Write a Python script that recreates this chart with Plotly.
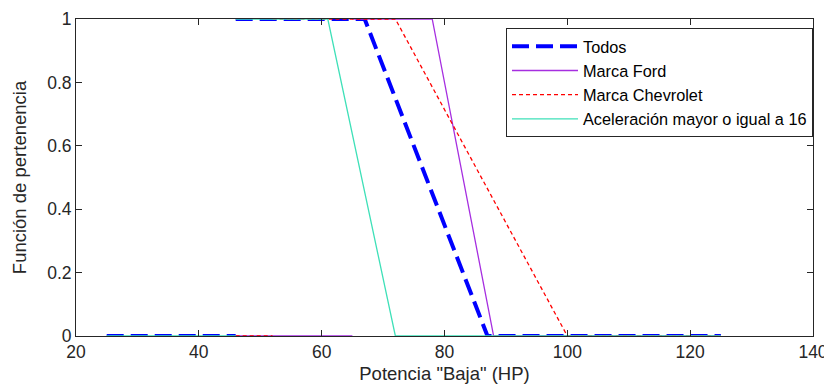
import plotly.graph_objects as go

# Membership function "Baja" for engine power (HP); None separates pieces
todos_x = [25, 46, None, 46, 67, 87, 125]
todos_y = [0, 0, None, 1, 1, 0, 0]

ford_x = [46, 65, None, 65, 78, 88, 125]
ford_y = [0, 0, None, 1, 1, 0, 0]

chev_x = [46, 52, None, 52, 72, 100, 125]
chev_y = [0, 0, None, 1, 1, 0, 0]

acel_x = [25, 46, None, 46, 61, 72, 125]
acel_y = [0, 0, None, 1, 1, 0, 0]

x_ticks = [20, 40, 60, 80, 100, 120, 140]
y_ticks = [0, 0.2, 0.4, 0.6, 0.8, 1]
y_tick_labels = ["0", "0.2", "0.4", "0.6", "0.8", "1"]

FONT = "Liberation Sans, Arial, sans-serif"
AX = "#262626"

fig = go.Figure()
fig.add_trace(go.Scatter(x=todos_x, y=todos_y, mode="lines", name="Todos",
                         line=dict(color="#0000ff", width=4, dash="17px,7px")))
fig.add_trace(go.Scatter(x=ford_x, y=ford_y, mode="lines", name="Marca Ford",
                         line=dict(color="#a62ee0", width=1.3)))
fig.add_trace(go.Scatter(x=chev_x, y=chev_y, mode="lines", name="Marca Chevrolet",
                         line=dict(color="#ff0000", width=1.3, dash="4px,3px")))
fig.add_trace(go.Scatter(x=acel_x, y=acel_y, mode="lines", name="Aceleración mayor o igual a 16",
                         line=dict(color="#3ee0b8", width=1.3)))

axis_common = dict(showgrid=False, zeroline=False, showline=True, linecolor=AX,
                   linewidth=1, mirror="ticks", ticks="inside", ticklen=6, automargin=False,
                   tickcolor=AX, tickfont=dict(family=FONT, size=17.5, color=AX))

fig.update_xaxes(range=[20, 140], tickvals=x_ticks,
                 title=dict(text='Potencia "Baja" (HP)', font=dict(family=FONT, size=18.5, color=AX),
                            standoff=6),
                 **axis_common)
fig.update_yaxes(range=[0, 1], tickvals=y_ticks, ticktext=y_tick_labels,
                 title=dict(text="Función de pertenencia", font=dict(family=FONT, size=18.5, color=AX)),
                 **axis_common)

# page body has an 8px margin, so the figure is offset by 8px right/down
fig.update_layout(
    width=832, height=388,
    margin=dict(l=68, r=27, t=11, b=60),
    paper_bgcolor="white", plot_bgcolor="white",
    font=dict(family=FONT, size=16, color="#000000"),
    legend=dict(x=1, xanchor="right", y=0.971, yanchor="top",
                bgcolor="white", bordercolor=AX, borderwidth=1,
                itemwidth=66,
                font=dict(family=FONT, size=16.3, color="#000000")),
    showlegend=True,
)

fig.write_html("out.html")
